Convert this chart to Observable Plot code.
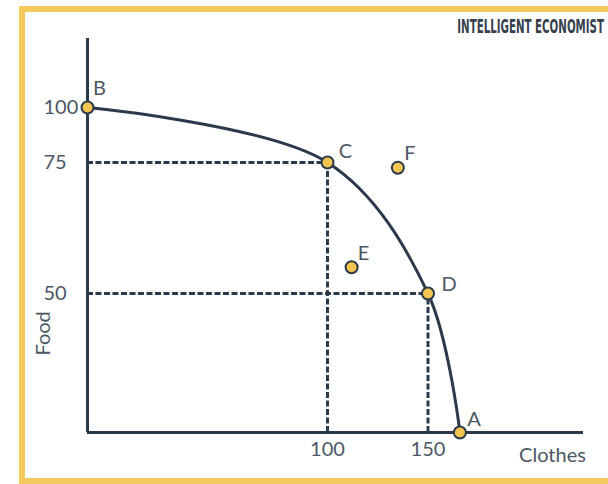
<!DOCTYPE html>
<html>
<head>
<meta charset="utf-8">
<script src="https://cdn.jsdelivr.net/npm/d3@7"></script>
<script src="https://cdn.jsdelivr.net/npm/@observablehq/plot@0.6"></script>
<style>
  html, body { margin: 0; padding: 0; background: #ffffff; overflow: hidden; }
  #wrap { position: relative; width: 608px; height: 484px; overflow: hidden; background: #fff; }
  #frame { position: absolute; left: 19px; top: 6px; width: 640px; height: 466px; border: 6px solid #f3c95d; background: #fff; }
  #chart { position: absolute; left: 0; top: 0; }
</style>
</head>
<body>
<div id="wrap">
  <div id="frame"></div>
  <div id="chart"></div>
</div>
<script>
// ---- data ----
const pointNames = ["B", "C", "D", "A", "E", "F"];
const clothes    = [0, 100, 150, 166, 112, 135];
const food       = [100, 75, 50, 0, 55, 74];
const ppfOrder   = ["B", "C", "D", "A"];      // points on the frontier, in order
const guidePoints = ["C", "D"];               // points with dashed guides
const xTicks = [100, 150];
const yTicks = [50, 75, 100];
const xTitle = "Clothes";
const yTitle = "Food";
const brand = "INTELLIGENT ECONOMIST";

// ---- styles ----
const ink = "#2b3a4b";
const txt = "#4d5764";
const gold = "#f4c651";
const labelOffset = {B: [12, -19], C: [18, -11], D: [21, -9], A: [14, -13], E: [12, -14], F: [12, -14]};

const table = pointNames.map((n, i) => ({name: n, clothes: clothes[i], food: food[i]}));
const byName = Object.fromEntries(table.map(d => [d.name, d]));
const ppf = ppfOrder.map(n => byName[n]);
const guides = guidePoints.map(n => byName[n]);

const labelMarks = table.map(d => Plot.text([d], {
  x: "clothes", y: "food", text: "name",
  dx: labelOffset[d.name][0], dy: labelOffset[d.name][1],
  fill: txt, fontSize: 20
}));

const chart = Plot.plot({
  width: 608,
  height: 484,
  margin: 0,
  style: {background: "transparent", fontFamily: "Lato, 'Open Sans', sans-serif", fontSize: "20px"},
  x: {type: "linear", domain: [0, 100, 150, 228], range: [87, 327, 427.5, 583], axis: null},
  y: {type: "linear", domain: [0, 50, 75, 100, 132], range: [432, 293, 162, 107, 38], axis: null},
  marks: [
    Plot.ruleY(guides, {y: "food", x1: 0, x2: "clothes", stroke: ink, strokeWidth: 3, strokeDasharray: "6,2.5"}),
    Plot.ruleX(guides, {x: "clothes", y1: 0, y2: "food", stroke: ink, strokeWidth: 3, strokeDasharray: "6,2.5"}),
    Plot.ruleX([0], {y1: 0, y2: 132, stroke: ink, strokeWidth: 3}),
    Plot.ruleY([0], {x1: 0, x2: 228, stroke: ink, strokeWidth: 3}),
    Plot.line(ppf, {x: "clothes", y: "food", curve: "catmull-rom", stroke: ink, strokeWidth: 3}),
    Plot.dot(table, {x: "clothes", y: "food", r: 6, fill: gold, stroke: ink, strokeWidth: 2}),
    ...labelMarks,
    Plot.text(yTicks, {x: 0, y: d => d, text: d => String(d), textAnchor: "start", dx: -44, fill: txt, fontSize: 20}),
    Plot.text(xTicks, {x: d => d, y: 0, text: d => String(d), dy: 17, fill: txt, fontSize: 20}),
    Plot.text([yTitle], {frameAnchor: "left", rotate: -90, dx: 43, dy: 113, fill: txt, fontSize: 20}),
    Plot.text([xTitle], {frameAnchor: "bottom-right", textAnchor: "middle", dx: -56, dy: -23, fill: txt, fontSize: 20})
  ]
});

// brand mark (condensed by a horizontal scale)
d3.select(chart).append("text")
  .attr("transform", "translate(604,26) scale(0.6,1)")
  .attr("text-anchor", "end")
  .attr("dy", "0.35em")
  .attr("fill", "#36404d")
  .attr("font-family", "'Liberation Sans Narrow', 'DejaVu Sans Condensed', sans-serif")
  .attr("font-weight", "bold")
  .attr("font-size", 19)
  .text(brand);

document.getElementById("chart").appendChild(chart);
</script>
</body>
</html>
